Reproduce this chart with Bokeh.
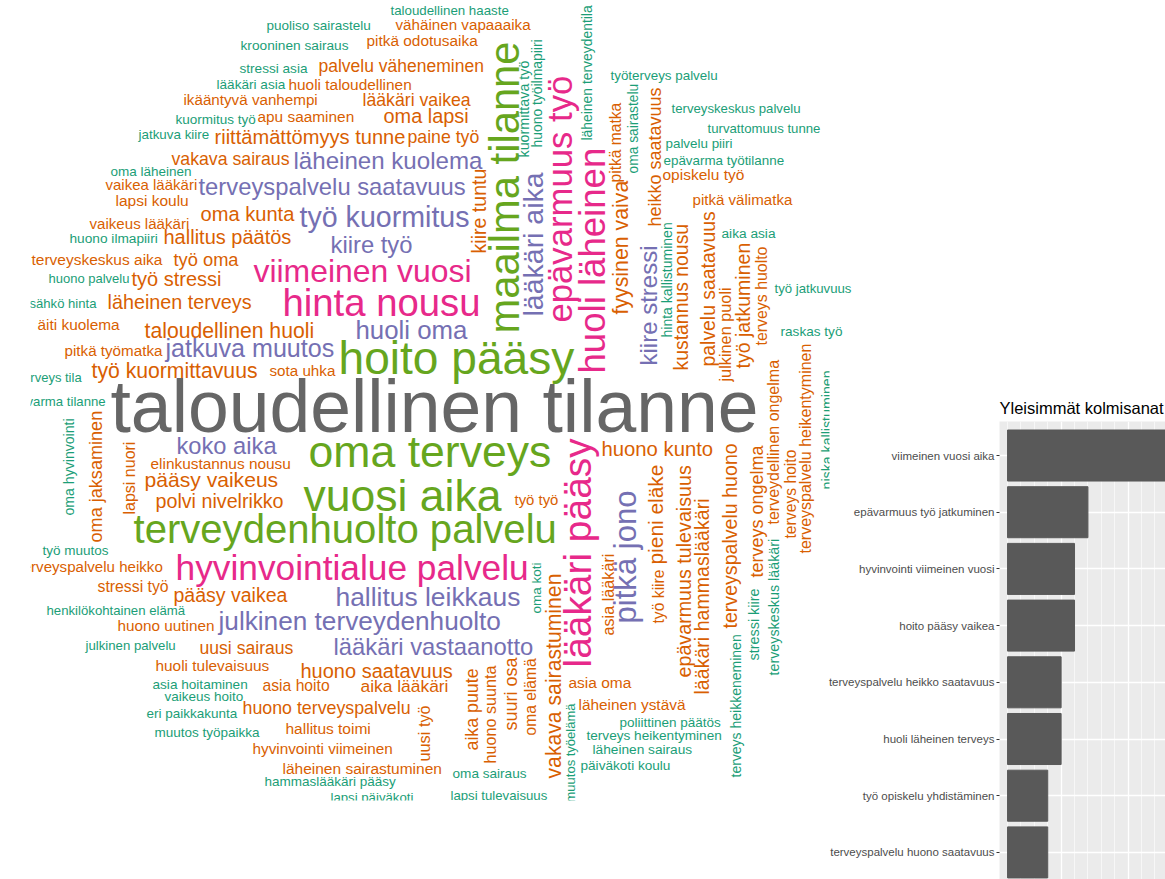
import math
from bokeh.embed import file_html
from bokeh.layouts import row
from bokeh.models import BoxAnnotation, ColumnDataSource, FixedTicker, Range1d
from bokeh.plotting import figure
from bokeh.resources import INLINE

FONT = "Liberation Sans"

# Frequency classes of the word cloud (Dark2 order, lowest to highest frequency)
palette = {"T": "#1B9E77", "O": "#D95F02", "P": "#7570B3", "K": "#E7298A", "G": "#66A61E", "Y": "#666666"}

# Horizontal words
h_words = [
 "taloudellinen haaste","puoliso sairastelu","vähäinen vapaaaika","krooninen sairaus","pitkä odotusaika",
 "stressi asia","palvelu väheneminen","lääkäri asia","huoli taloudellinen","ikääntyvä vanhempi","lääkäri vaikea",
 "kuormitus työ","apu saaminen","oma lapsi","jatkuva kiire","riittämättömyys tunne","paine työ","vakava sairaus",
 "läheinen kuolema","oma läheinen","vaikea lääkäri","terveyspalvelu saatavuus","lapsi koulu","oma kunta",
 "työ kuormitus","vaikeus lääkäri","huono ilmapiiri","hallitus päätös","kiire työ","terveyskeskus aika","työ oma",
 "viimeinen vuosi","huono palvelu","työ stressi","sähkö hinta","läheinen terveys","hinta nousu","äiti kuolema",
 "taloudellinen huoli","huoli oma","pitkä työmatka","jatkuva muutos","hoito pääsy","terveys tila","työ kuormittavuus",
 "sota uhka","taloudellinen tilanne","epävarma tilanne","koko aika","oma terveys","huono kunto","elinkustannus nousu",
 "pääsy vaikeus","polvi nivelrikko","vuosi aika","työ työ","terveydenhuolto palvelu","työ muutos","terveyspalvelu heikko",
 "hyvinvointialue palvelu","stressi työ","pääsy vaikea","hallitus leikkaus","henkilökohtainen elämä","huono uutinen",
 "julkinen terveydenhuolto","julkinen palvelu","uusi sairaus","lääkäri vastaanotto","huoli tulevaisuus","huono saatavuus",
 "asia hoito","aika lääkäri","asia hoitaminen","vaikeus hoito","eri paikkakunta","huono terveyspalvelu","muutos työpaikka",
 "hallitus toimi","hyvinvointi viimeinen","läheinen sairastuminen","hammaslääkäri pääsy","lapsi päiväkoti","oma sairaus",
 "lapsi tulevaisuus","asia oma","läheinen ystävä","poliittinen päätös","terveys heikentyminen","läheinen sairaus",
 "päiväkoti koulu","työterveys palvelu","terveyskeskus palvelu","turvattomuus tunne","palvelu piiri","epävarma työtilanne",
 "opiskelu työ","pitkä välimatka","aika asia","työ jatkuvuus","raskas työ",
]
h_class = list("TTOTO TOTOOO TOOTOOO PTOPOO POTOPOO KTOTOKO OPOPGTO OYTPGOO OOGOGTO KOOPTO PTOPOO OOTTTOT OOOTTT TOOTTT TTTTTT OOTTT".replace(" ", ""))

# Vertical words
v_words = [
 "maailma tilanne","kuormittava työ","huono työilmapiiri","epävarmuus työ","läheinen terveydentila","lääkäri aika",
 "huoli läheinen","kiire tuntu","pitkä matka","oma sairastelu","heikko saatavuus","fyysinen vaiva","kiire stressi",
 "hinta kallistuminen","kustannus nousu","palvelu saatavuus","julkinen puoli","työ jatkuminen","terveys huolto",
 "terveydellinen ongelma","terveys ongelma","terveys hoito","terveyspalvelu heikentyminen","niska kallistuminen",
 "lääkäri pääsy","pitkä jono","pieni eläke","työ kiire","epävarmuus tulevaisuus","lääkäri hammaslääkäri",
 "terveyspalvelu huono","terveys heikkeneminen","stressi kiire","terveyskeskus lääkäri","asia lääkäri","oma koti",
 "vakava sairastuminen","aika puute","huono suunta","suuri osa","oma elämä","muutos työelämä","uusi työ",
 "oma hyvinvointi","oma jaksaminen","lapsi nuori",
]
v_class = list("GTTKTPKOOTOOPTOOOOO OOOOT KPOOOO OTTTOT OOOOOTO TOO".replace(" ", ""))

# Word-cloud layout, in picture pixels
h_x0 = [390,266,395,240,366,239,318,216,288,183,362,175,257,383,138,214,407,171,293,110,105,198,115,200,299,89,69,163,330,31,173,
        253,48,131,29,107,282,37,144,355,64,165,338,19,91,269,110,4,176,308,601,150,144,155,303,514,133,42,18,175,97,173,335,46,117,
        218,85,199,333,155,300,262,360,152,164,146,242,154,285,252,282,264,330,452,450,568,578,619,586,592,580,610,671,707,665,663,
        662,692,721,774,780]
h_x1 = [508,370,530,348,477,307,483,285,411,317,470,255,354,468,209,405,479,289,482,191,197,465,188,294,469,189,157,291,412,162,238,
        471,129,221,96,251,480,119,314,467,162,334,574,81,257,335,758,105,276,551,713,290,278,283,501,558,556,108,162,528,168,287,520,185,214,
        501,175,293,533,269,452,329,448,247,243,237,410,259,370,392,441,395,413,526,547,631,685,720,721,692,670,717,800,820,732,784,
        744,792,775,851,842]
h_y = [11,26,25,46,41,69,66,85,85,100,100,120,117,116,135,138,137,159,161,172,185,187,201,215,218,224,239,238,245,260,260,
       272,279,279,304,302,304,325,331,331,351,349,360,378,371,371,410,402,447,453,450,464,480,501,497,500,531,551,567,569,587,595,598,611,626,
       622,646,648,647,666,671,686,686,685,697,714,708,733,729,749,769,782,798,774,796,683,705,723,736,750,766,76,109,129,144,161,
       175,200,234,289,332]

v_x = [507,525,538,562,588,535,595,480,617,635,656,623,650,668,682,709,726,744,763,775,758,792,807,828,
       580,628,657,660,685,703,731,737,755,775,609,538,555,473,491,512,532,572,425,70,97,131]
v_y0 = [333,157,147,322,140,316,373,253,182,173,226,314,365,337,370,366,381,368,345,524,577,538,553,489,
        667,623,564,623,677,694,628,777,660,675,635,613,778,750,763,730,735,802,761,515,542,514]
v_y1 = [41,60,39,75,5,172,147,168,102,83,87,180,245,222,223,211,287,242,246,359,445,449,343,370,
        438,490,464,569,465,498,443,634,588,538,553,562,573,668,665,657,658,703,705,418,410,441]

# Bar chart
bar_categories = ["viimeinen vuosi aika","epävarmuus työ jatkuminen","hyvinvointi viimeinen vuosi","hoito pääsy vaikea",
                  "terveyspalvelu heikko saatavuus","huoli läheinen terveys","työ opiskelu yhdistäminen","terveyspalvelu huono saatavuus"]
bar_values = [13, 6, 5, 5, 4, 4, 3, 3]
bar_title = "Yleisimmät kolmisanat"

# Helvetica-style advance widths, used to size a word to its extent
W = {c: .556 for c in "abdeghnopquäöL"}
W.update({c: .5 for c in "cksvxyz"})
W.update({c: .222 for c in "ijl"})
W.update({"f": .278, "t": .278, "r": .333, "m": .833, "w": .722, " ": .278})
def em(s):
    return sum(W.get(c, .556) for c in s)

h_px = [(b - a) / em(w) for w, a, b in zip(h_words, h_x0, h_x1)]
v_px = [(a - b) / em(w) for w, a, b in zip(v_words, v_y0, v_y1)]

cloud = figure(width=860, height=879, x_range=Range1d(30, 860), y_range=Range1d(800, 0),
               x_axis_location=None, y_axis_location=None, toolbar_location=None, output_backend="svg",
               min_border_left=30, min_border_right=0, min_border_top=0, min_border_bottom=79, outline_line_color=None)
cloud.frame_align = False
cloud.grid.visible = False

hs = ColumnDataSource(dict(x=h_x0, y=[y - 0.05 * s for y, s in zip(h_y, h_px)], text=h_words,
                           c=[palette[k] for k in h_class], fs=[f"{s:.1f}px" for s in h_px]))
cloud.text("x", "y", text="text", source=hs, text_color="c", text_font_size="fs",
           text_font={"value": FONT}, text_align="left", text_baseline="middle")
vs = ColumnDataSource(dict(x=[x - 1 - 0.05 * s for x, s in zip(v_x, v_px)], y=v_y0, text=v_words,
                           c=[palette[k] for k in v_class], fs=[f"{s:.1f}px" for s in v_px]))
cloud.text("x", "y", text="text", source=vs, text_color="c", text_font_size="fs", angle=math.pi / 2,
           text_font={"value": FONT}, text_align="left", text_baseline="middle")
# the bar chart's picture covers the cloud from here on
cloud.add_layout(BoxAnnotation(left=829, right=860, top=365, bottom=800, fill_color="white", fill_alpha=1,
                               line_color=None, level="overlay"))

ranks = list(range(len(bar_categories)))
bars = figure(width=342, height=879, x_range=Range1d(-0.6, 11.79), y_range=Range1d(7.478, -0.6),
              toolbar_location=None, output_backend="svg", title=bar_title,
              min_border_left=176, min_border_right=0, min_border_top=421, min_border_bottom=0,
              outline_line_color=None, background_fill_color="#EBEBEB", border_fill_color=None)
bars.frame_align = False
bars.margin = (0, 0, 0, -37)
bars.hbar(y=ranks, left=0, right=bar_values, height=0.9, color="#595959")
bars.title.text_font = FONT
bars.title.text_font_size = "16.5px"
bars.title.text_font_style = "normal"
bars.title.text_color = "#000000"
bars.title.align = "left"
bars.title.offset = 0
bars.title.standoff = 9
bars.xaxis.visible = False
bars.xgrid.ticker = FixedTicker(ticks=[4, 9], minor_ticks=[0, 1, 2, 3, 5, 6, 7, 8, 10, 11])
bars.xgrid.grid_line_color = "white"
bars.xgrid.grid_line_width = 1.3
bars.xgrid.minor_grid_line_color = "white"
bars.xgrid.minor_grid_line_width = 0.6
bars.ygrid.ticker = FixedTicker(ticks=ranks)
bars.ygrid.grid_line_color = "white"
bars.ygrid.grid_line_width = 1.3
ax = bars.yaxis[0]
ax.ticker = FixedTicker(ticks=ranks)
ax.major_label_overrides = {i: c for i, c in zip(ranks, bar_categories)}
ax.major_label_text_font = FONT
ax.major_label_text_font_size = "11.5px"
ax.major_label_text_color = "#4D4D4D"
ax.major_label_standoff = 2
ax.axis_line_color = None
ax.major_tick_line_color = "#333333"
ax.major_tick_out = 3
ax.major_tick_in = 0
ax.minor_tick_line_color = None

open("out.html", "w").write(file_html(row(cloud, bars, spacing=0), INLINE))
